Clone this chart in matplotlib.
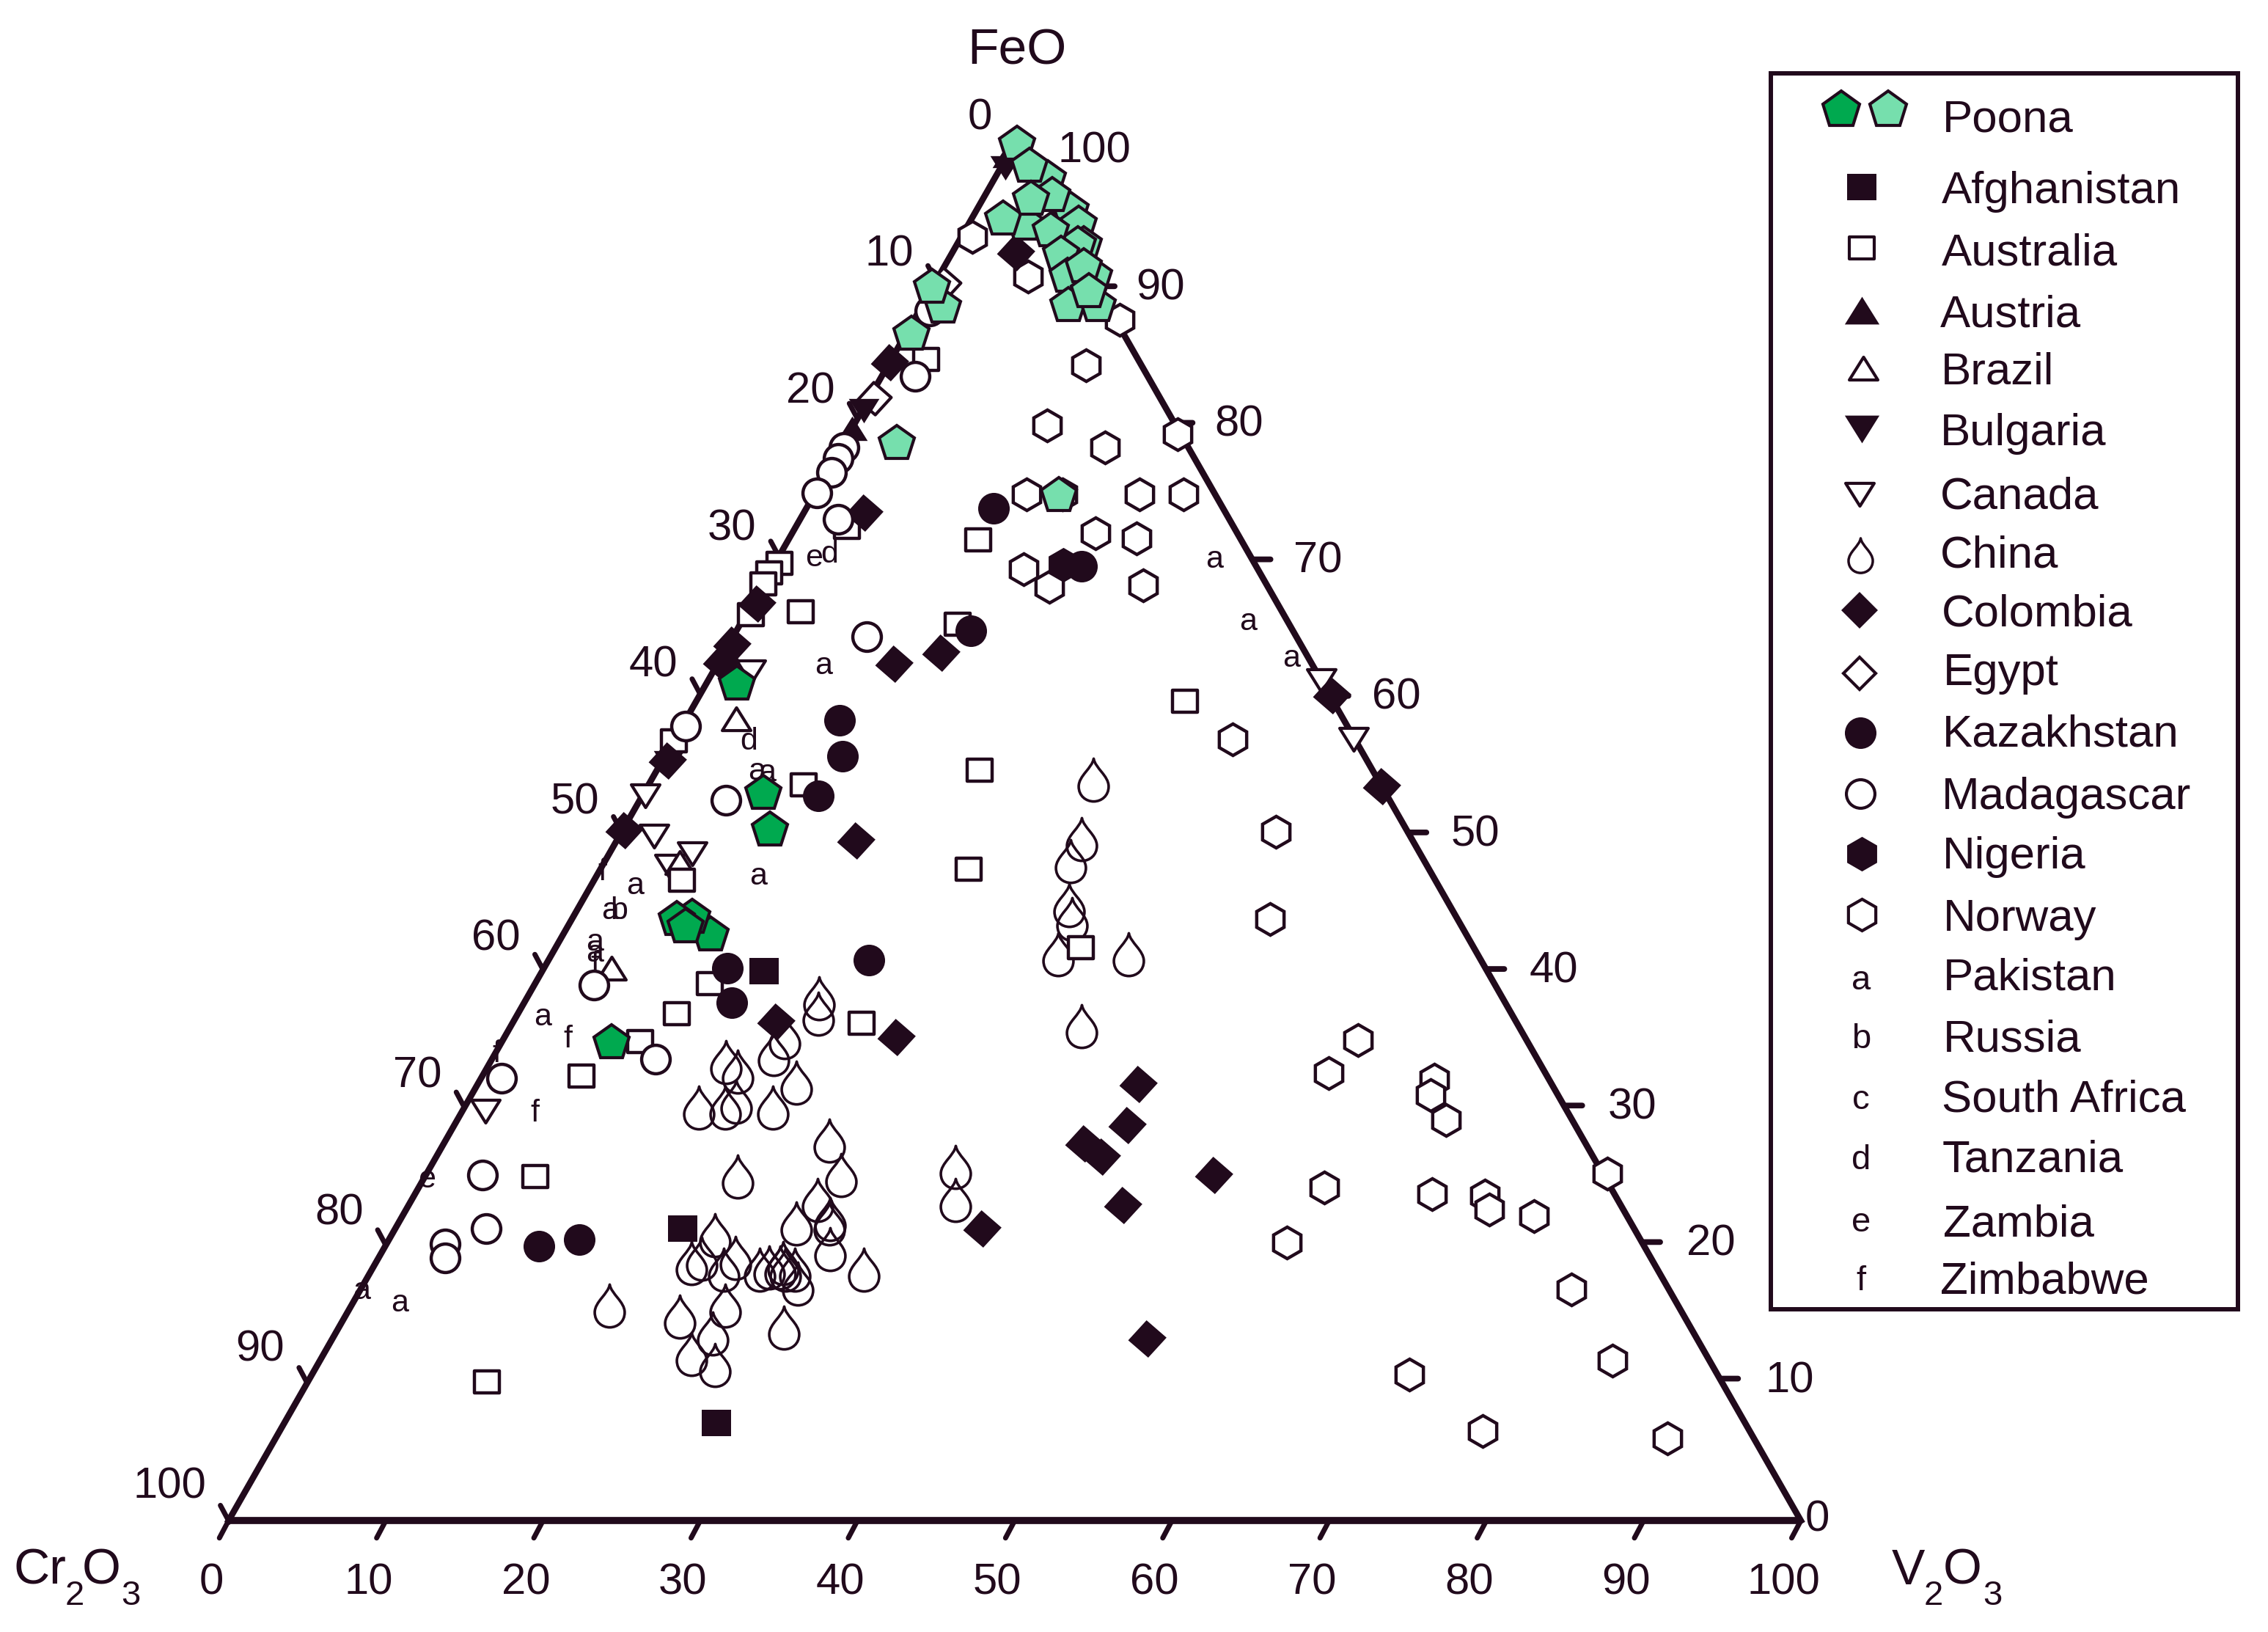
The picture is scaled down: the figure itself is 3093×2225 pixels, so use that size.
import matplotlib
matplotlib.use("Agg")
import matplotlib.pyplot as plt
from matplotlib.markers import MarkerStyle
from matplotlib.patches import Rectangle
from matplotlib.path import Path

plt.rcParams['font.family'] = ['Liberation Sans', 'DejaVu Sans']

INK = '#210a1c'
DARK_GREEN = '#00a94f'
LIGHT_GREEN = '#76dfad'

# values: V2O3 and FeO in percent (Cr2O3 is the rest)
poona_dark_v = [2.0, 7.6, 9.4, 9.4, 7.6, 6.7, 7.5, 7.0]
poona_dark_fe = [60.7, 52.8, 50.1, 42.5, 43.8, 43.6, 43.1, 34.7]

poona_light_v = [0.2, 3.4, 1.8, 6.0, 4.3, 3.6, 2.0, 3.1, 7.0, 8.1, 7.7, 5.5, 7.0, 8.2, 9.9, 8.9, 9.3, 11.2, 10.1, 1.4, 0.0, 0.4, 3.4, 15.6]
poona_light_fe = [99.9, 97.4, 98.3, 95.1, 96.2, 94.1, 94.5, 95.9, 94.1, 92.6, 92.6, 93.6, 91.9, 90.3, 90.3, 91.0, 88.2, 88.2, 89.2, 88.1, 89.5, 86.1, 78.2, 74.4]

afghanistan_v = [14.1, 18.3, 27.5]
afghanistan_fe = [39.9, 21.2, 7.1]

australia_v = [2.2, 3.3, 0.3, 0.0, 0.0, 0.3, 3.4, 12.1, 13.8, 31.1, 20.5, 9.9, 23.4, 0.0, 5.6, 33.4, 11.1, 10.1, 8.8, 22.2, 6.3, 7.0, 11.4]
australia_fe = [84.3, 72.1, 69.5, 68.8, 68.0, 65.8, 66.0, 71.2, 65.1, 59.5, 54.5, 53.4, 47.3, 56.6, 46.5, 41.6, 39.0, 36.8, 34.8, 36.1, 32.3, 25.0, 10.1]

austria_v = [0.0, 0.0]
austria_fe = [99.1, 79.3]

brazil_v = [3.2, 4.3, 4.8]
brazil_fe = [58.2, 40.1, 47.8]

bulgaria_v = [0.3, 0.1, 0.5]
bulgaria_fe = [98.2, 80.6, 55.0]

canada_v = [0.2, 2.2, 4.3, 5.3, 2.4, 39.0, 43.2, 1.5]
canada_fe = [52.6, 49.7, 47.5, 48.4, 61.6, 61.0, 56.7, 29.7]

china_v = [28.1, 29.5, 29.6, 31.1, 31.8, 32.2, 36.7, 36.3, 33.4, 34.6,
           18.6, 19.1, 17.8, 17.7, 15.0, 16.1, 17.1, 20.2, 14.9, 16.6, 19.6,
           24.4, 26.4, 19.9, 25.8, 27.3, 27.4, 25.3, 20.6, 28.4, 31.3, 20.1, 20.6,
           22.4, 22.7, 24.7, 25.2, 25.9, 25.9, 26.9, 27.6, 26.3, 16.4, 23.8, 21.3,
           24.0, 28.3, 23.4, 25.3]
china_fe = [53.8, 49.5, 47.9, 44.7, 43.7, 41.1, 41.1, 35.9, 25.7, 23.3,
            37.9, 36.8, 35.1, 33.9, 33.3, 32.6, 30.4, 31.8, 30.0, 30.0, 30.0,
            27.6, 25.1, 25.0, 23.3, 21.9, 21.6, 21.6, 20.7, 19.7, 18.2, 18.7, 19.0,
            18.2, 19.1, 18.2, 18.4, 18.7, 18.4, 18.2, 17.2, 18.2, 15.6, 15.6, 14.8,
            13.6, 14.0, 12.1, 11.3]

colombia_v = [4.0, 0.0, 3.8, 0.3, 0.2, 0.2, 0.3, 0.1, 11.2, 13.8, 15.2, 16.7, 24.9, 42.0, 42.8, 40.7, 42.3, 50.1, 45.4, 37.3, 51.8, 40.2, 46.7]
colombia_fe = [92.1, 84.1, 73.2, 66.6, 63.6, 62.3, 55.2, 50.1, 62.2, 63.0, 49.4, 36.2, 35.1, 31.7, 28.7, 27.4, 26.4, 25.1, 22.9, 21.2, 13.2, 59.9, 53.3]

egypt_v = [0.3, 0.6]
egypt_fe = [81.5, 89.8]

kazakhstan_v = [19.6, 11.9, 14.9, 9.8, 11.3, 11.2, 11.7, 20.4, 13.2, 9.8, 12.1]
kazakhstan_fe = [69.3, 73.5, 64.6, 58.1, 55.5, 52.6, 40.1, 40.7, 37.6, 19.9, 20.4]

madagascar_v = [0.2, 0.2, 0.3, 0.1, 2.1, 0.7, 2.4, 8.5, 0.2, 5.5, 3.8, 10.4, 1.3, 3.6, 5.8, 3.7, 4.2]
madagascar_fe = [77.9, 77.1, 76.1, 74.6, 83.1, 87.8, 72.7, 64.2, 57.7, 52.3, 38.9, 33.5, 32.1, 25.1, 21.2, 20.1, 19.1]

nigeria_v = [18.4]
nigeria_fe = [69.4]

norway_v = [0.7, 5.7, 13.1, 12.6, 20.9, 12.3, 16.8, 13.5, 15.8, 20.7, 23.5, 19.3, 22.1, 16.0, 18.3, 24.2, 35.5, 41.6, 44.4, 54.4,
            53.7, 60.7, 61.0, 62.9, 75.1, 57.6, 64.7, 68.1, 68.9, 72.0, 57.2, 77.0, 82.2, 69.8, 76.5, 88.5]
norway_fe = [93.2, 90.3, 87.2, 83.9, 78.9, 79.5, 77.9, 74.5, 74.5, 74.5, 74.5, 71.7, 71.3, 69.1, 67.8, 67.9, 56.7, 50.0, 43.7, 34.9,
             32.5, 32.0, 30.9, 29.1, 25.2, 24.2, 23.7, 23.6, 22.6, 22.1, 20.2, 16.8, 11.6, 10.6, 6.5, 6.0]

pakistan_v = [27.7, 32.1, 36.2, 6.7, 7.0, 6.3, 10.2, 2.7, 2.0, 2.2, 2.6, 1.6, 0.0, 2.9]
pakistan_fe = [70.0, 65.5, 62.8, 62.3, 54.5, 54.6, 47.0, 46.3, 44.5, 42.2, 41.4, 36.8, 16.9, 16.0]
russia_v = [2.6]
russia_fe = [44.5]
tanzania_v = [3.0, 4.7]
tanzania_fe = [70.4, 56.8]
zambia_v = [2.2, 0.1]
zambia_fe = [70.1, 25.0]
zimbabwe_v = [0.1, 3.0, 4.0, 0.0, 4.6]
zimbabwe_fe = [47.3, 40.6, 35.2, 34.1, 29.8]

ticks = [0, 10, 20, 30, 40, 50, 60, 70, 80, 90, 100]

legend_names = ['Poona', 'Afghanistan', 'Australia', 'Austria', 'Brazil', 'Bulgaria', 'Canada', 'China', 'Colombia', 'Egypt',
                'Kazakhstan', 'Madagascar', 'Nigeria', 'Norway', 'Pakistan', 'Russia', 'South Africa', 'Tanzania', 'Zambia', 'Zimbabwe']
legend_text_x = [2649, 2648, 2648, 2646, 2647, 2646, 2646, 2646, 2648, 2650, 2649, 2648, 2649, 2650, 2650, 2650, 2648, 2649, 2650, 2646]
legend_text_y = [157, 255, 340, 424, 502, 585, 671, 752, 832, 912, 996, 1081, 1162, 1247, 1328, 1412, 1494, 1576, 1664, 1741]


def ternary(v, fe):
    """V2O3 and FeO percent to the x, y of the axes."""
    return [a + b / 2 for a, b in zip(v, fe)], list(fe)


def drop_path():
    verts = [(0, 30), (2, 17), (21, 6), (21, -9), (21, -22), (11, -30), (0, -30),
             (-11, -30), (-21, -22), (-21, -9), (-21, 6), (-2, 17), (0, 30), (0, 30)]
    codes = [Path.MOVETO] + [Path.CURVE4] * 12 + [Path.CLOSEPOLY]
    return Path(verts, codes)


SQUARE = MarkerStyle(Path([(-1, -0.88), (1, -0.88), (1, 0.88), (-1, 0.88), (-1, -0.88)], closed=True), joinstyle='miter')
UP = MarkerStyle(Path([(-1, -0.8), (1, -0.8), (0, 0.8), (-1, -0.8)], closed=True), joinstyle='miter')
DOWN = MarkerStyle(Path([(-1, 0.8), (1, 0.8), (0, -0.8), (-1, 0.8)], closed=True), joinstyle='miter')
TILTED = MarkerStyle(Path([(-2, 56), (58, 4), (3, -56), (-57, -4), (-2, 56)], closed=True), joinstyle='miter')
DROP = MarkerStyle(drop_path())

fig = plt.figure(figsize=(30.93, 22.25), dpi=100)
ax = fig.add_axes([311.7 / 3093, 1 - 2073.2 / 2225, 2144.2 / 3093, 1877.9 / 2225])
ax.set_xlim(0, 100)
ax.set_ylim(0, 100)
ax.axis('off')


def letters(v, fe, s):
    xs, ys = ternary(v, fe)
    for x, y in zip(xs, ys):
        ax.text(x, y, s, fontsize=31, color=INK, ha='center', va='center_baseline', zorder=1)


letters(pakistan_v, pakistan_fe, 'a')
letters(russia_v, russia_fe, 'b')
letters(tanzania_v, tanzania_fe, 'd')
letters(zambia_v, zambia_fe, 'e')
letters(zimbabwe_v, zimbabwe_fe, 'f')

# triangle frame and ticks
ax.plot([0, 50, 100], [0, 100, 0], color=INK, lw=6.2, solid_joinstyle='miter', clip_on=False, zorder=2)
ax.plot([0, 100], [0, 0], color=INK, lw=7, solid_capstyle='butt', clip_on=False, zorder=2)
for t in ticks:
    # bottom axis, V2O3
    ax.annotate('', xy=(t, 0), xytext=(-9, -17), textcoords='offset points',
                arrowprops=dict(arrowstyle='-', color=INK, lw=5, shrinkA=0, shrinkB=0), zorder=2, annotation_clip=False)
    ax.annotate(str(t), xy=(t, 0), xytext=(-17, -57), textcoords='offset points', fontsize=43, color=INK,
                ha='center', va='center_baseline', annotation_clip=False)
    # left axis, Cr2O3, labels drift a little from the edge in the original
    x, y = ternary([0], [100 - t])
    if t > 0:
        ax.annotate('', xy=(x[0], y[0]), xytext=(-8, 15), textcoords='offset points',
                    arrowprops=dict(arrowstyle='-', color=INK, lw=5, shrinkA=0, shrinkB=0), zorder=2, annotation_clip=False)
    ax.annotate(str(t), xy=(x[0], y[0]), xytext=(-22, 29.2 + 0.085 * t), textcoords='offset points', fontsize=43, color=INK,
                ha='right', va='center_baseline', annotation_clip=False)
    # right axis, FeO
    fe_tick = 0.4 + t * 0.9913
    x, y = ternary([100 - fe_tick], [fe_tick])
    if 0 < t < 100:
        ax.annotate('', xy=(x[0], y[0]), xytext=(18, 0), textcoords='offset points',
                    arrowprops=dict(arrowstyle='-', color=INK, lw=5.6, shrinkA=0, shrinkB=0), zorder=2, annotation_clip=False)
    x, y = ternary([100 - t], [t])
    dx = 4 if t == 0 else 42
    dy = 5 if t == 0 else 7.4 - 0.111 * t
    ax.annotate(str(t), xy=(x[0], y[0]), xytext=(dx, dy), textcoords='offset points', fontsize=43, color=INK,
                ha='left', va='center_baseline', annotation_clip=False)


def points(v, fe, marker, size, face, edge=INK, mew=3.0, z=3):
    xs, ys = ternary(v, fe)
    ax.plot(xs, ys, ls='none', marker=marker, ms=size, mfc=face, mec=edge, mew=mew, clip_on=False, zorder=z)


points(china_v, china_fe, DROP, 42, 'none', mew=2.6, z=3)
points(canada_v, canada_fe, DOWN, 28, 'white', z=4)
points(brazil_v, brazil_fe, UP, 28, 'white', z=4)
points(australia_v, australia_fe, SQUARE, 25, 'white', mew=3.2, z=5)
points(afghanistan_v, afghanistan_fe, SQUARE, 29, INK, mew=0, z=5)
points(norway_v, norway_fe, 'h', 31, 'white', mew=3.2, z=6)
points(egypt_v, egypt_fe, TILTED, 33, 'white', z=6)
points(colombia_v, colombia_fe, TILTED, 38, INK, mew=0, z=7)
points(austria_v, austria_fe, UP, 30, INK, mew=0, z=7)
points(bulgaria_v, bulgaria_fe, DOWN, 30, INK, mew=0, z=7)
points(madagascar_v, madagascar_fe, 'o', 28, 'white', mew=3.2, z=8)
points(nigeria_v, nigeria_fe, 'h', 34, INK, mew=0, z=9)
points(kazakhstan_v, kazakhstan_fe, 'o', 31, INK, mew=0, z=9)
points(poona_light_v, poona_light_fe, 'p', 36, LIGHT_GREEN, z=10)
points(poona_dark_v, poona_dark_fe, 'p', 36, DARK_GREEN, z=10)

# overlay in picture pixels for the legend and the corner names
over = fig.add_axes([0, 0, 1, 1])
over.set_xlim(0, 3093)
over.set_ylim(2225, 0)
over.axis('off')
over.patch.set_alpha(0)

over.add_patch(Rectangle((2414.5, 100), 637.5, 1685, fill=False, ec=INK, lw=4.3))
for name, lx, ly in zip(legend_names, legend_text_x, legend_text_y):
    over.text(lx, ly, name, fontsize=44.5, color=INK, ha='left', va='center_baseline')

over.plot([2511], [150], marker='p', ms=38, mfc=DARK_GREEN, mec=INK, mew=3, ls='none')
over.plot([2575], [150], marker='p', ms=38, mfc=LIGHT_GREEN, mec=INK, mew=3, ls='none')
over.plot([2539], [255], marker=SQUARE, ms=29, mfc=INK, mew=0, ls='none')
over.plot([2539], [338], marker=SQUARE, ms=25, mfc='white', mec=INK, mew=3, ls='none')
over.plot([2539], [423], marker=UP, ms=34, mfc=INK, mew=0, ls='none')
over.plot([2541], [502], marker=UP, ms=28, mfc='white', mec=INK, mew=3, ls='none')
over.plot([2539], [585], marker=DOWN, ms=34, mfc=INK, mew=0, ls='none')
over.plot([2536], [674], marker=DOWN, ms=28, mfc='white', mec=INK, mew=3, ls='none')
over.plot([2537], [757], marker=DROP, ms=34, mfc='none', mec=INK, mew=2.5, ls='none')
over.plot([2536], [832], marker='D', ms=25.5, mfc=INK, mew=0, ls='none')
over.plot([2536], [918], marker='D', ms=22, mfc='white', mec=INK, mew=3, ls='none')
over.plot([2537], [999], marker='o', ms=31, mfc=INK, mew=0, ls='none')
over.plot([2537], [1082], marker='o', ms=28, mfc='white', mec=INK, mew=3, ls='none')
over.plot([2539], [1164], marker='h', ms=34, mfc=INK, mew=0, ls='none')
over.plot([2539], [1247], marker='h', ms=31, mfc='white', mec=INK, mew=3, ls='none')
for s, ly in zip('abcdef', [1332, 1412, 1495, 1577, 1662, 1742]):
    over.text(2538, ly, s, fontsize=34, color=INK, ha='center', va='center_baseline')

over.text(1387, 63, 'FeO', fontsize=50, color=INK, ha='center', va='center_baseline')
over.text(18, 2160, 'Cr', fontsize=49, color=INK, ha='left', va='baseline')
over.text(89, 2188, '2', fontsize=34, color=INK, ha='left', va='baseline')
over.text(112, 2160, 'O', fontsize=49, color=INK, ha='left', va='baseline')
over.text(165, 2188, '3', fontsize=34, color=INK, ha='left', va='baseline')
over.text(2580, 2160, 'V', fontsize=49, color=INK, ha='left', va='baseline')
over.text(2624, 2188, '2', fontsize=34, color=INK, ha='left', va='baseline')
over.text(2650, 2160, 'O', fontsize=49, color=INK, ha='left', va='baseline')
over.text(2704, 2188, '3', fontsize=34, color=INK, ha='left', va='baseline')

fig.savefig('out.png', dpi=100, facecolor='white')
